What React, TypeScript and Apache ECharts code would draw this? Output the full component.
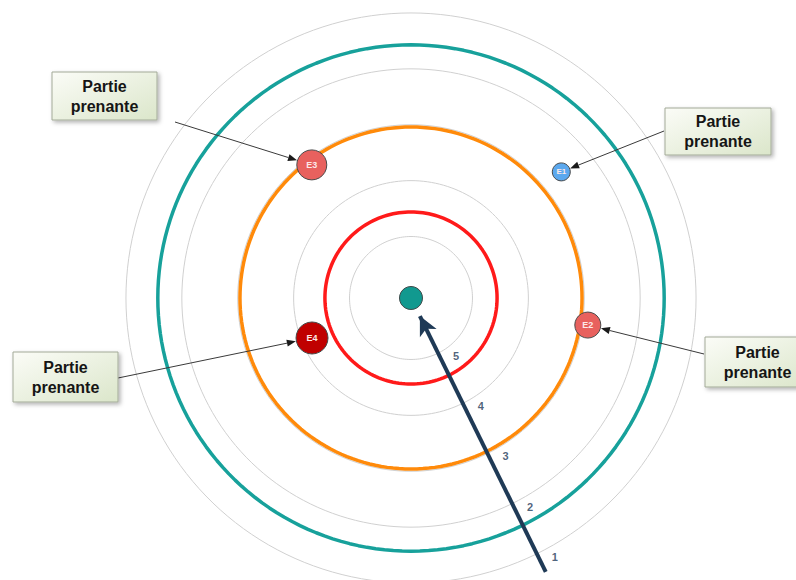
import React, { useEffect, useRef } from 'react';
import * as echarts from 'echarts';

// Radius scale: level 1 = outermost grey ring, centre = CENTER_LEVEL
const RING_TICKS = [1, 2, 3, 4, 5];
const TICK_LABELS = ['1', '2', '3', '4', '5'];
const RADIUS_MIN = 0.5;
const RADIUS_MAX = 6.1;
const CENTER_LEVEL = 6.1;

// Coloured level circles
const LEVEL_NAMES = ['Niveau 1', 'Niveau 2', 'Niveau 3'];
const LEVEL_VALUES = [1.57, 3.04, 4.56];
const LEVEL_COLORS = ['#17a19b', '#ff8a0a', '#ff1a1a'];

// Stakeholders
const STAKE_NAMES = ['E1', 'E2', 'E3', 'E4'];
const STAKE_LEVELS = [2.59, 2.9, 3.13, 4.19];
const STAKE_ANGLES = [40, 351.3, 126.7, 202];
const STAKE_SIZES = [18, 26, 30, 32];
const STAKE_COLORS = ['#5ba8ee', '#e8615e', '#e8615e', '#c00000'];

// Main arrow (from outside towards the centre)
const ARROW_LEVELS = [0.64, 5.74];
const ARROW_ANGLE = 296.2;

const BOX_TEXT = 'Partie\nprenante';

// layout of the annotation boxes (pixels) and the stakeholder each one points to
const BOXES = [
  { x: 52, y: 72, w: 105, h: 48, from: [175, 122], target: 2 },
  { x: 665, y: 108, w: 106, h: 47, from: [664, 131], target: 0 },
  { x: 13, y: 352, w: 105, h: 50, from: [118, 378], target: 3 },
  { x: 705, y: 337, w: 105, h: 50, from: [704, 354], target: 1 },
];

const RING_STEPS = 180;
const FONT = '"Liberation Sans", Arial, sans-serif';
const POLAR_RADIUS = 313; // pixels spanned by RADIUS_MIN..RADIUS_MAX

export default function App() {
  const ref = useRef<HTMLDivElement>(null);

  useEffect(() => {
    if (!ref.current) return;
    const chart = echarts.init(ref.current, null, { renderer: 'svg' });

    const ringAngles = Array.from({ length: RING_STEPS + 1 }, (_, i) => (i * 360) / RING_STEPS);

    const greyRings = RING_TICKS.map((t) => ({
      type: 'line',
      name: 'ring ' + t,
      coordinateSystem: 'polar',
      data: ringAngles.map((a) => [t, a]),
      showSymbol: false,
      clip: false,
      silent: true,
      z: 1,
      lineStyle: { color: '#d0d0d0', width: 1 },
    }));

    const levelRings = LEVEL_VALUES.map((v, i) => ({
      type: 'line',
      name: LEVEL_NAMES[i],
      coordinateSystem: 'polar',
      data: ringAngles.map((a) => [v, a]),
      showSymbol: false,
      clip: false,
      silent: true,
      z: 2,
      lineStyle: { color: LEVEL_COLORS[i], width: 3.5 },
    }));

    const series: any[] = [
      ...greyRings,
      ...levelRings,
      {
        type: 'scatter',
        name: 'centre',
        coordinateSystem: 'polar',
        data: [[CENTER_LEVEL, 0]],
        symbolSize: 23,
        z: 4,
        itemStyle: { color: '#11998f', borderColor: '#3f4a4a', borderWidth: 1, opacity: 1 },
      },
      {
        type: 'line',
        name: 'axe',
        coordinateSystem: 'polar',
        clip: false,
        z: 5,
        showSymbol: true,
        lineStyle: { color: '#1f3a56', width: 4 },
        itemStyle: { color: '#1f3a56' },
        data: [
          { value: [ARROW_LEVELS[0], ARROW_ANGLE], symbol: 'none' },
          {
            value: [ARROW_LEVELS[1], ARROW_ANGLE],
            symbol: 'arrow',
            symbolSize: [14, 19],
            symbolRotate: 26.2,
          },
        ],
      },
      {
        type: 'scatter',
        name: 'ticks',
        coordinateSystem: 'polar',
        z: 6,
        symbolSize: 1,
        itemStyle: { color: 'rgba(0,0,0,0)' },
        data: RING_TICKS.map((t) => [t, ARROW_ANGLE]),
        label: {
          show: true,
          position: 'inside',
          offset: [18, 3],
          formatter: (p: any) => TICK_LABELS[p.dataIndex],
          color: '#1f3a5a',
          fontWeight: 'bold',
          fontSize: 11,
          fontFamily: FONT,
        },
      },
      {
        type: 'scatter',
        name: 'stakeholders',
        coordinateSystem: 'polar',
        z: 7,
        data: STAKE_NAMES.map((n, i) => ({
          name: n,
          value: [STAKE_LEVELS[i], STAKE_ANGLES[i]],
          symbolSize: STAKE_SIZES[i],
          itemStyle: { color: STAKE_COLORS[i] },
          label: { fontSize: i === 0 ? 8 : 9 },
        })),
        itemStyle: { borderColor: '#4a4a4a', borderWidth: 1, opacity: 1 },
        label: {
          show: true,
          position: 'inside',
          formatter: '{b}',
          color: '#fde8e8',
          fontWeight: 'bold',
          fontFamily: FONT,
        },
      },
    ];
    const stakeSeriesIndex = series.length - 1;

    chart.setOption({
      animation: false,
      backgroundColor: '#ffffff',
      polar: { center: [411, 298], radius: POLAR_RADIUS },
      angleAxis: {
        type: 'value',
        min: 0,
        max: 360,
        startAngle: 0,
        clockwise: false,
        show: false,
      },
      radiusAxis: {
        type: 'value',
        min: RADIUS_MIN,
        max: RADIUS_MAX,
        inverse: true,
        show: false,
      },
      series,
    });

    const elements: any[] = [];
    BOXES.forEach((b) => {
      const i = b.target;
      const p = chart.convertToPixel({ seriesIndex: stakeSeriesIndex }, [
        STAKE_LEVELS[i],
        STAKE_ANGLES[i],
      ]) as number[] | undefined;
      if (p && p.length === 2) {
        const dx = p[0] - b.from[0];
        const dy = p[1] - b.from[1];
        const len = Math.sqrt(dx * dx + dy * dy);
        const ux = dx / len;
        const uy = dy / len;
        const r = STAKE_SIZES[i] / 2 + 0.5;
        const tip = [p[0] - ux * r, p[1] - uy * r];
        const base = [tip[0] - ux * 9, tip[1] - uy * 9];
        const px = -uy;
        const py = ux;
        elements.push({
          type: 'line',
          z: 20,
          shape: { x1: b.from[0], y1: b.from[1], x2: base[0], y2: base[1] },
          style: { stroke: '#3a3a3a', lineWidth: 1 },
        });
        elements.push({
          type: 'polygon',
          z: 20,
          shape: {
            points: [
              tip,
              [base[0] + px * 3.5, base[1] + py * 3.5],
              [base[0] - px * 3.5, base[1] - py * 3.5],
            ],
          },
          style: { fill: '#1a1a1a' },
        });
      }
      elements.push({
        type: 'rect',
        z: 21,
        shape: { x: b.x, y: b.y, width: b.w, height: b.h },
        style: {
          fill: new echarts.graphic.LinearGradient(0, 0, 1, 1, [
            { offset: 0, color: '#fbfcf7' },
            { offset: 1, color: '#dbe6ca' },
          ]),
          stroke: '#a3aa98',
          lineWidth: 1,
          shadowBlur: 4,
          shadowOffsetX: 2,
          shadowOffsetY: 2,
          shadowColor: 'rgba(0,0,0,0.3)',
        },
      });
      elements.push({
        type: 'text',
        z: 22,
        x: b.x + b.w / 2,
        y: b.y + b.h / 2,
        style: {
          text: BOX_TEXT,
          align: 'center',
          verticalAlign: 'middle',
          fontSize: 16,
          fontWeight: 'bold',
          fontFamily: FONT,
          lineHeight: 20,
          fill: '#151515',
        },
      });
    });

    chart.setOption({ graphic: { elements } });

    return () => chart.dispose();
  }, []);

  return (
    <div
      ref={ref}
      style={{ position: 'fixed', left: 0, top: 0, width: 796, height: 580, background: '#fff' }}
    />
  );
}
